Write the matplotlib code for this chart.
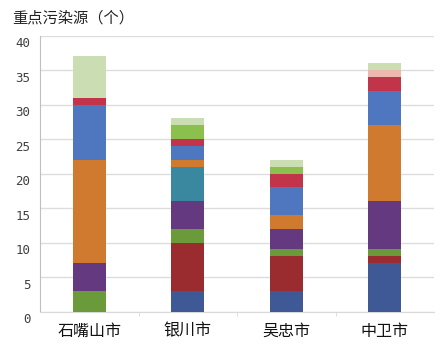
import matplotlib
matplotlib.use("Agg")
import matplotlib.pyplot as plt
import matplotlib.transforms as mtransforms
import numpy as np

plt.rcParams['font.family'] = ['Noto Sans CJK SC', 'DejaVu Sans']

categories = ["石嘴山市", "银川市", "吴忠市", "中卫市"]
s1 = [0, 3, 3, 7]    # dark blue
s2 = [0, 7, 5, 1]    # dark red
s3 = [3, 2, 1, 1]    # green
s4 = [4, 4, 3, 7]    # purple
s5 = [0, 5, 0, 0]    # teal
s6 = [15, 1, 2, 11]  # orange
s7 = [8, 2, 4, 5]    # blue
s8 = [1, 1, 2, 2]    # red
s9 = [0, 2, 1, 0]    # light green
s10 = [0, 0, 0, 1]   # pink
s11 = [6, 1, 1, 1]   # pale green
series = [s1, s2, s3, s4, s5, s6, s7, s8, s9, s10, s11]
colors = ["#3F5896", "#9A2B2E", "#6B9A3A", "#64397F", "#3A88A0", "#CF7A2E",
          "#4F77C0", "#C2344A", "#8CC04E", "#EDB9AE", "#CBDDB3"]
yticks = [0, 5, 10, 15, 20, 25, 30, 35, 40]
title = "重点污染源（个）"

fig = plt.figure(figsize=(4.42, 3.53), dpi=100)
ax = fig.add_axes([40/442, 1 - 311.5/353, 394/442, (311.5 - 35.5)/353])

x = np.arange(len(categories))
bottom = np.zeros(len(categories))
for vals, c in zip(series, colors):
    v = np.array(vals, dtype=float)
    ax.bar(x, v, width=0.33, bottom=bottom, color=c, zorder=3)
    bottom += v

ax.set_xlim(-0.5, len(categories) - 0.5)
ax.set_ylim(0, 40)
ax.set_yticks(yticks)
ax.set_yticklabels([str(t) for t in yticks], family='DejaVu Sans Mono',
                   fontsize=9, color='#404040')
ax.yaxis.grid(True, color='#DDDDDD', linewidth=1, zorder=0)
ax.tick_params(axis='y', length=0, pad=7)
offset = mtransforms.ScaledTranslation(0, -5/72, fig.dpi_scale_trans)
for lab in ax.get_yticklabels():
    lab.set_transform(lab.get_transform() + offset)

ax.set_xticks(x)
ax.set_xticklabels(categories, fontsize=11.5, color='#111111')
ax.set_xticks(np.arange(len(categories) - 1) + 0.5, minor=True)
ax.tick_params(axis='x', which='major', length=0, pad=8)
ax.tick_params(axis='x', which='minor', length=3, color='#D9D9D9')

for s in ['top', 'right']:
    ax.spines[s].set_visible(False)
ax.spines['left'].set_color('#BFBFBF')
ax.spines['bottom'].set_color('#D9D9D9')

fig.text(12/442, 1 - 18/353, title, fontsize=11, color='#222222', va='center', ha='left')

fig.savefig("out.png", dpi=100)
